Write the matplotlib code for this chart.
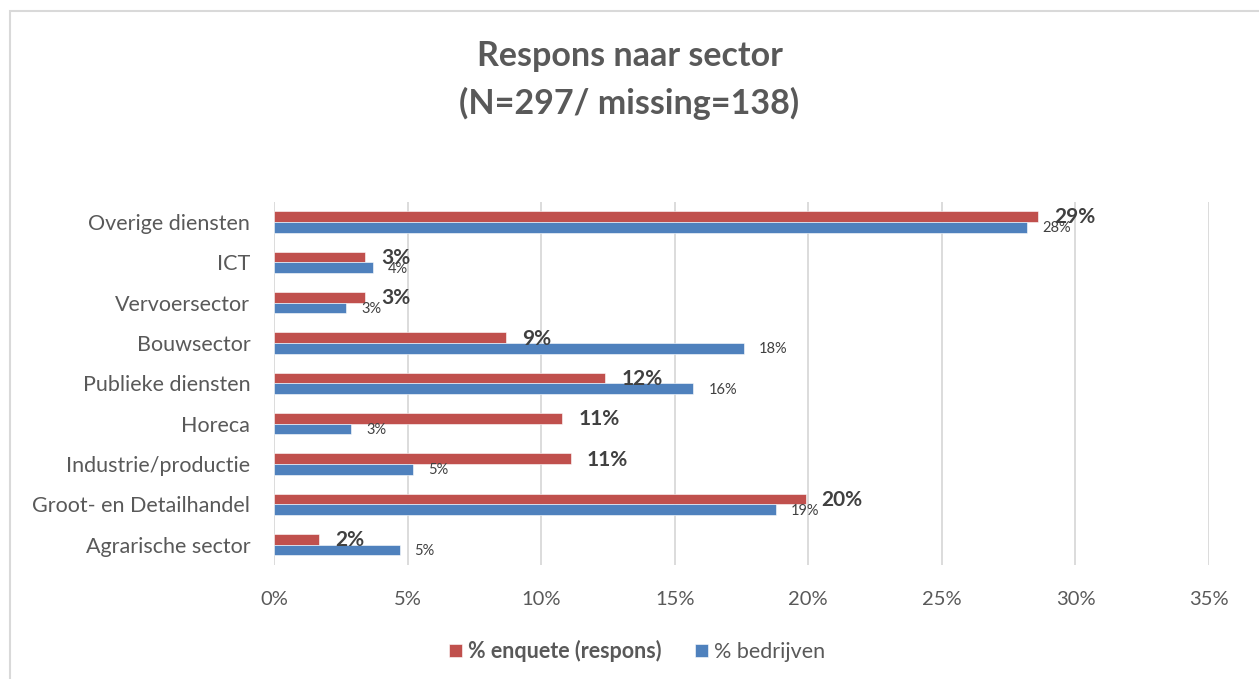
import matplotlib.pyplot as plt
import matplotlib.patches as mpatches
import numpy as np
from matplotlib.ticker import FixedLocator

plt.rcParams['font.family'] = ['Lato', 'DejaVu Sans']

# data, top to bottom as shown in the chart
sectors = ['Overige diensten', 'ICT', 'Vervoersector', 'Bouwsector', 'Publieke diensten',
           'Horeca', 'Industrie/productie', 'Groot- en Detailhandel', 'Agrarische sector']
enquete = [28.6, 3.4, 3.4, 8.7, 12.4, 10.8, 11.1, 19.9, 1.7]
bedrijven = [28.2, 3.7, 2.7, 17.6, 15.7, 2.9, 5.2, 18.8, 4.7]
enquete_lbl = ['29%', '3%', '3%', '9%', '12%', '11%', '11%', '20%', '2%']
bedrijven_lbl = ['28%', '4%', '3%', '18%', '16%', '3%', '5%', '19%', '5%']
xticks = [0, 5, 10, 15, 20, 25, 30, 35]

red = '#C0504D'
blue = '#4F81BD'
txt = '#595959'

fig = plt.figure(figsize=(12.59, 6.79), dpi=100)
ax = fig.add_axes([0.2176, 0.168, 0.7427, 0.535])

y = np.arange(len(sectors))
h = 0.265
ax.barh(y - h/2, enquete, height=h, color=red, edgecolor='white', linewidth=0.4,
        label='% enquete (respons)', zorder=3)
ax.barh(y + h/2, bedrijven, height=h, color=blue, edgecolor='white', linewidth=0.4,
        label='% bedrijven', zorder=3)

for i in range(len(sectors)):
    ax.annotate(enquete_lbl[i], (enquete[i], y[i] - h/2), xytext=(16, -1),
                textcoords='offset pixels', ha='left', va='center',
                fontsize=15, fontweight='bold', color='#404040', zorder=4)
    ax.annotate(bedrijven_lbl[i], (bedrijven[i], y[i] + h/2), xytext=(15, -1),
                textcoords='offset pixels', ha='left', va='center',
                fontsize=10.5, color='#404040', zorder=4)

ax.set_xlim(0, 35)
ax.set_ylim(len(sectors) - 0.5, -0.5)
ax.xaxis.set_major_locator(FixedLocator(xticks))
ax.set_xticklabels([f'{t}%' for t in xticks])
ax.set_yticks(y)
ax.set_yticklabels(sectors)
ax.tick_params(axis='both', length=0, colors=txt)
ax.tick_params(axis='x', pad=19, labelsize=14.5)
ax.tick_params(axis='y', pad=17, labelsize=15.5)
ax.grid(axis='x', color='#D9D9D9', linewidth=1.3, zorder=0)
for s in ax.spines.values():
    s.set_visible(False)

fig.text(0.5, 0.918, 'Respons naar sector', ha='center', va='center',
         fontsize=24.5, fontweight='bold', color=txt)
fig.text(0.5, 0.847, '(N=297/ missing=138)', ha='center', va='center',
         fontsize=24.5, fontweight='bold', color=txt)

leg = fig.legend(loc='center', bbox_to_anchor=(0.506, 0.041), ncol=2, frameon=False,
                 fontsize=15.5, handlelength=0.6, handleheight=0.6, handletextpad=0.25,
                 columnspacing=1.6)
for t in leg.get_texts():
    t.set_color(txt)
leg.get_texts()[0].set_fontweight('bold')

# light chart border (left and top visible)
fig.patches.append(mpatches.Rectangle((10/1259, -0.05), 1.2, (679 - 11)/679 + 0.05,
                                      transform=fig.transFigure, fill=False,
                                      edgecolor='#D9D9D9', linewidth=1.5))

fig.savefig('out.png', dpi=100)
